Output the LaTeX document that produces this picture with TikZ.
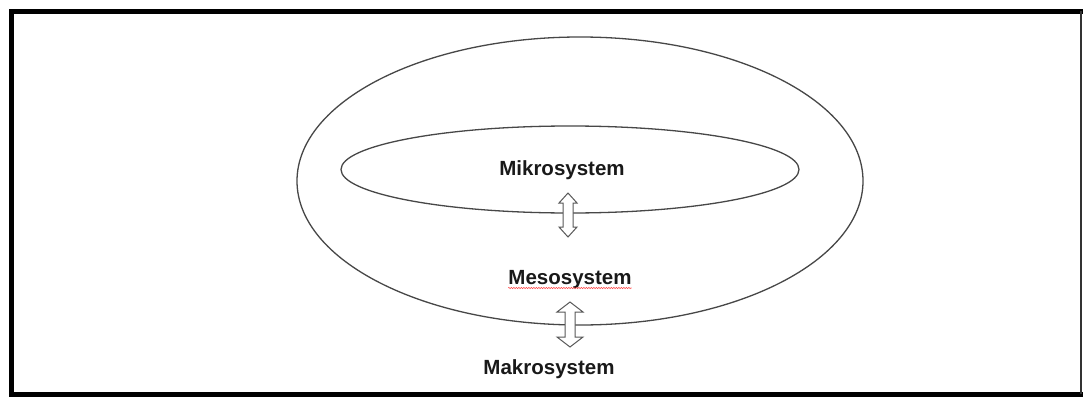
\documentclass[tikz,border=0pt]{standalone}
\usepackage{fontspec}
\setmainfont{Liberation Sans}
\usetikzlibrary{shapes.geometric,decorations.pathmorphing}
\begin{document}
\begin{tikzpicture}[x=1pt,y=-1pt,
  ring/.style={draw=black!72,line width=1.3pt,ellipse,inner sep=0pt},
  lbl/.style={font=\fontsize{20.5}{24}\selectfont\bfseries,text=black!90,inner sep=0pt,anchor=base},
  dblarrow/.style={draw=black!65,line width=1pt,fill=white,line join=miter},
  framebar/.style={line width=5pt,line cap=rect}]
\useasboundingbox (0,0) rectangle (1083,396);
\fill[white] (0,0) rectangle (1083,396);
% frame
\draw[framebar] (1081,11.5) -- (11.5,11.5) -- (11.5,394) -- (1081,394);
\draw[line width=1.5pt,black!80] (1081,11.5) -- (1081,394);
% ellipses
\node[ring, minimum width=566pt, minimum height=288pt] (outer) at (580,181) {};
\node[ring, minimum width=458pt, minimum height=87pt] (inner) at (570,169.5) {};
% labels
\node[lbl] (mikro) at (562,175) {Mikrosystem};
\node[lbl] (meso) at (570,284) {Mesosystem};
\node[lbl] (makro) at (549,374) {Makrosystem};
% spell-check underline
\draw[red!75,line width=0.6pt,decorate,decoration={zigzag,segment length=2.5pt,amplitude=0.6pt}]
  ([yshift=-4pt]meso.base west) -- ([yshift=-4pt]meso.base east);
% double arrows
\coordinate (a1t) at (568,193);
\coordinate (a1b) at (568,237);
\draw[dblarrow] (a1t) -- (577,203) -- (573,203) -- (573,227) -- (577,227) -- (a1b)
  -- (559,227) -- (563,227) -- (563,203) -- (559,203) -- cycle;
\coordinate (a2t) at (570,302);
\coordinate (a2b) at (570,347);
\draw[dblarrow] (a2t) -- (583,312) -- (575,312) -- (575,337) -- (583,337) -- (a2b)
  -- (557,337) -- (565,337) -- (565,312) -- (557,312) -- cycle;
\end{tikzpicture}
\end{document}
